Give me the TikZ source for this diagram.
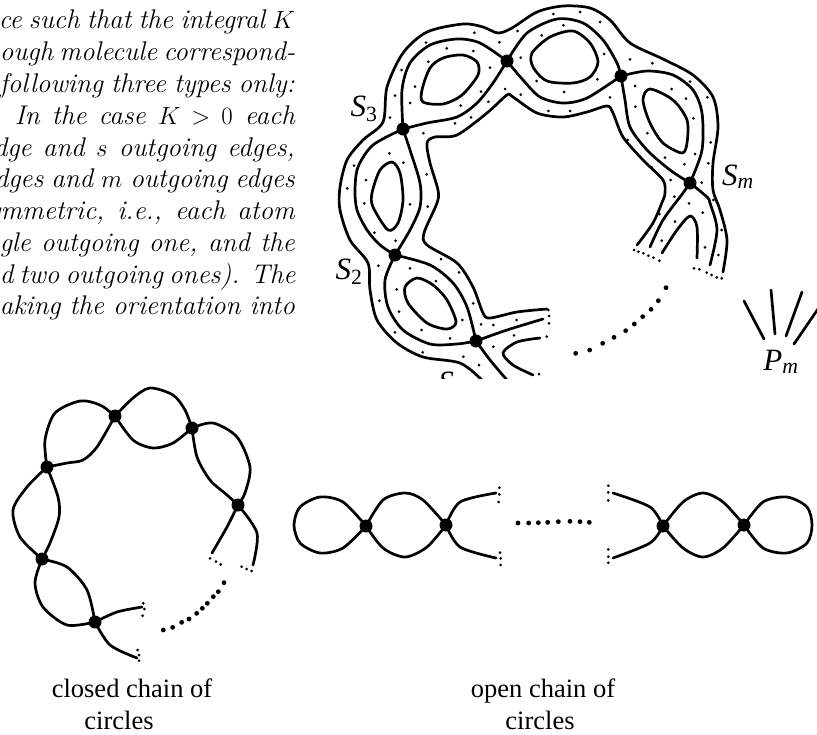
\documentclass[tikz,border=0pt]{standalone}
\usepackage{fontspec}
\newfontfamily\capfont{Liberation Serif}
\tikzset{
  curve/.style={line width=2.7pt, line cap=round, line join=round},
  vertex/.style={circle, fill=black, inner sep=0pt, minimum size=13pt},
  caption/.style={font=\capfont\fontsize{26.5}{26.5}\selectfont, inner sep=0pt, anchor=base},
  letter/.style={font=\capfont\itshape\fontsize{31}{31}\selectfont, inner sep=0pt, anchor=base},
  textline/.style={font=\fontsize{27}{32}\selectfont\itshape, inner sep=0pt, anchor=base east}
}
\newcommand{\smallsub}[1]{\textsubscript{#1}}
\begin{document}
\begin{tikzpicture}[x=1pt,y=-1pt]
    \useasboundingbox (0,0) rectangle (817,734);
    \clip (0,0) rectangle (817,734);

    % Text column on the left
    \foreach \w/\y/\txt in {296/28/{ce such that the integral $K$},
        295/60/{ough molecule correspond-},
        295/92/{following three types only:},
        280/124/{In the case $K>0$ each},
        301/156/{dge and $s$ outgoing edges,},
        300/187/{dges and $m$ outgoing edges},
        307/219/{ymmetric, i.e., each atom},
        295/251/{gle outgoing one, and the},
        295/283/{d two outgoing ones). The},
        295/314/{aking the orientation into}} {
        \node[textline] at (295,\y) {\makebox[\w pt][s]{\txt}};
      }

    \begin{scope}
      \clip (330,0) rectangle (817,378);
      % Vertices of the thickened chain
      \node[vertex] (a1) at (403,129) {};
      \node[vertex] (a2) at (507,61) {};
      \node[vertex] (a3) at (621,76) {};
      \node[vertex] (a4) at (690,183) {};
      \node[vertex] (a5) at (395,255) {};
      \node[vertex] (a6) at (476,341) {};

      % Outer boundary
      \draw[curve] plot[smooth] coordinates {(482,380) (460,363) (423,357) (397,343) (377,320) (370,290) (368,263) (350,240) (340,210) (340,187) (347,160) (363,140) (383,122) (387,87) (403,53) (427,32) (463,24) (483,27) (498,33) (512,28) (537,12) (563,6) (590,8) (610,20) (630,43) (663,59) (693,75) (713,97) (718,127) (713,163) (713,190) (720,210) (727,240) (723,272)};
      % Inner boundary
      \draw[curve] plot[smooth] coordinates {(547,309) (517,312) (490,318) (483,313) (473,287) (457,263) (427,245) (424,233) (437,203) (438,190) (430,163) (427,143) (435,137) (457,135) (487,113) (507,95) (513,97) (537,113) (563,117) (587,112) (607,106) (613,113) (623,137) (643,160) (663,180) (665,193) (663,200) (653,223) (637,245)};

      % Circles through the vertices
      \draw[curve] plot[smooth] coordinates {(a1) (402,90) (410,63) (430,45) (457,39) (480,43) (a2)};
      \draw[curve] plot[smooth] coordinates {(a1) (427,123) (457,117) (477,103) (493,83) (a2)};
      \draw[curve] plot[smooth] coordinates {(a2) (527,33) (557,19) (583,23) (603,40) (617,63) (a3)};
      \draw[curve] plot[smooth] coordinates {(a2) (523,80) (540,97) (563,103) (587,98) (a3)};
      \draw[curve] plot[smooth] coordinates {(a3) (647,71) (673,75) (693,90) (702,113) (702,150) (a4)};
      \draw[curve] plot[smooth] coordinates {(a3) (625,100) (630,127) (647,150) (670,170) (a4)};
      \draw[curve] plot[smooth] coordinates {(a1) (410,150) (420,183) (420,207) (410,230) (a5)};
      \draw[curve] plot[smooth] coordinates {(a1) (373,145) (358,167) (355,190) (357,210) (367,230) (380,245) (a5)};
      \draw[curve] plot[smooth] coordinates {(a5) (385,280) (388,307) (403,330) (430,344) (457,344) (a6)};
      \draw[curve] plot[smooth] coordinates {(a5) (430,265) (453,283) (467,307) (a6)};
      \draw[curve] plot[smooth] coordinates {(a4) (683,193) (663,220) (650,247)};
      \draw[curve] plot[smooth] coordinates {(a4) (707,197) (710,203) (717,230) (710,265)};
      \draw[curve] plot[smooth] coordinates {(a6) (507,330) (543,319)};
      \draw[curve] plot[smooth] coordinates {(a6) (490,360) (507,380)};

      % Holes
      \draw[curve] plot[smooth cycle] coordinates {(463,55) (443,58) (430,68) (422,90) (423,102) (443,104) (462,95) (478,75) (477,62)};
      \draw[curve] plot[smooth cycle] coordinates {(573,31) (550,37) (532,53) (533,67) (547,81) (573,83) (590,77) (598,62) (590,43)};
      \draw[curve] plot[smooth cycle] coordinates {(650,89) (673,100) (687,120) (687,143) (682,153) (663,143) (650,123) (643,100)};
      \draw[curve] plot[smooth cycle] coordinates {(392,162) (380,170) (372,193) (373,207) (388,230) (398,223) (403,200) (400,173)};
      \draw[curve] plot[smooth cycle] coordinates {(417,278) (405,287) (408,303) (427,323) (447,329) (456,322) (447,300) (433,285)};
      \draw[curve] plot[smooth] coordinates {(662,253) (677,230) (690,216) (697,227) (697,258)};
      \draw[curve] plot[smooth] coordinates {(540,338) (517,342) (503,353) (513,365) (533,375)};

      % Dots on the surface
      \foreach \x/\y in {670/42,750/36,810/66,700/76,563/93,433/98,508/127,635/106,288/128,350/145,430/153,295/185,215/210,480/203,572/173,822/162,900/178,967/190,802/238,620/243,1080/245,915/258,1025/267,1068/296,1132/292,255/260,453/275,525/267,572/284,702/276,195/287,240/309,475/305,392/317,840/292,916/320,1090/355,180/353,423/352,375/370,655/333,720/333,280/400,952/400,893/420,1142/427,178/460,220/488,1095/462,1005/473,1063/493,1135/490,72/497,965/502,290/523,108/540,1022/540,1115/548,52/565} {
          \fill (330+\x/3,\y/3) circle (1.5pt);
        }
      \foreach \x/\y in {103/40,240/43,293/50,1033/20,1077/40,1150/30,988/72,1118/68,1035/95,1175/120,133/128,197/152,995/152,1125/172,1165/195,145/227,240/235,333/207,387/247,318/273,200/298,148/332,430/340,207/365,397/390,453/403,490/405,560/390,275/420,195/427,360/445,552/436,490/470,278/487,400/500,447/525,655/360,657/378,657/400,650/440,627/552,912/180,925/185,940/190,955/197,970/203,988/212,1092/235,1108/238,1130/248,1145/255,1160/262,1175/265} {
          \fill (330+\x/3,190+\y/3) circle (1.5pt);
        }
      % Dots between the ends
      \foreach \x/\y in {1008/293,985/332,963/358,938/380,913/402,887/422,852/442,818/460,779/480,737/490} {
          \fill (330+\x/3,190+\y/3) circle (2.4pt);
        }

      % Fan of edges
      \coordinate (f1a) at (744,301); \coordinate (f1b) at (764,339);
      \coordinate (f2a) at (771,290); \coordinate (f2b) at (775,334);
      \coordinate (f3a) at (802,292); \coordinate (f3b) at (786,336);
      \coordinate (f4a) at (820,306); \coordinate (f4b) at (794,344);
      \foreach \i in {1,...,4} {
          \draw[curve] (f\i a) -- (f\i b);
        }

      % Labels
      \node[letter] (s3) at (364,116) {S\smallsub{\upshape 3}};
      \node[letter] (s2) at (349,279) {S\smallsub{\upshape 2}};
      \node[letter] (s1) at (446,392) {S};
      \node[letter] (sm) at (738,185) {S\smallsub{m}};
      \node[letter] (pm) at (781,370) {P\smallsub{m}};
    \end{scope}

    % Closed chain
    \node[vertex] (v1) at (115,416) {};
    \node[vertex] (v2) at (192,428) {};
    \node[vertex] (v3) at (238,505) {};
    \node[vertex] (v4) at (95,622) {};
    \node[vertex] (v5) at (42,559) {};
    \node[vertex] (v6) at (47,467) {};

    \draw[curve] plot[smooth] coordinates {(v6) (45,440) (55,413) (80,401) (100,405) (v1)};
    \draw[curve] plot[smooth] coordinates {(v6) (67,463) (83,460) (97,447) (v1)};
    \draw[curve] plot[smooth] coordinates {(v1) (133,398) (150,388) (173,395) (185,410) (v2)};
    \draw[curve] plot[smooth] coordinates {(v1) (133,440) (153,448) (173,443) (v2)};
    \draw[curve] plot[smooth] coordinates {(v2) (213,423) (237,437) (250,467) (245,493) (v3)};
    \draw[curve] plot[smooth] coordinates {(v2) (197,457) (210,480) (227,495) (v3)};
    \draw[curve] plot[smooth] coordinates {(v6) (27,487) (13,510) (20,537) (v5)};
    \draw[curve] plot[smooth] coordinates {(v6) (58,497) (59,517) (50,543) (v5)};
    \draw[curve] plot[smooth] coordinates {(v5) (67,567) (87,590) (v4)};
    \draw[curve] plot[smooth] coordinates {(v5) (35,583) (43,607) (67,625) (v4)};
    \draw[curve] plot[smooth] coordinates {(v3) (227,527) (212,553)};
    \draw[curve] plot[smooth] coordinates {(v3) (257,533) (253,565)};
    \draw[curve] plot[smooth] coordinates {(v4) (117,612) (142,607)};
    \draw[curve] plot[smooth] coordinates {(v4) (110,645) (137,658)};

    \foreach \x/\y in {430/640,433/657,428/677,413/780,417/795,417/812,630/505,648/515,662/523,725/530,740/537,755/543} {
        \fill (\x/3,390+\y/3) circle (1.5pt);
      }
    \foreach \x/\y in {490/720,518/712,545/697,567/687,590/670,607/655,622/640,640/620,655/605,672/578} {
        \fill (\x/3,390+\y/3) circle (2.4pt);
      }

    % Open chain
    \node[vertex] (w1) at (366,526) {};
    \node[vertex] (w2) at (446,525) {};
    \node[vertex] (w3) at (663,526) {};
    \node[vertex] (w4) at (744,525) {};

    \draw[curve] plot[smooth] coordinates {(w1) (343,502) (320,497) (300,507) (294,525) (300,543) (320,553) (343,548) (w1)};
    \draw[curve] plot[smooth] coordinates {(w1) (383,500) (405,493) (423,500) (w2)};
    \draw[curve] plot[smooth] coordinates {(w1) (383,548) (405,557) (427,547) (w2)};
    \draw[curve] plot[smooth] coordinates {(w2) (460,502) (496,493)};
    \draw[curve] plot[smooth] coordinates {(w2) (460,547) (496,558)};
    \draw[curve] plot[smooth] coordinates {(w3) (650,507) (613,493)};
    \draw[curve] plot[smooth] coordinates {(w3) (650,543) (613,558)};
    \draw[curve] plot[smooth] coordinates {(w3) (683,502) (703,493) (723,502) (w4)};
    \draw[curve] plot[smooth] coordinates {(w3) (683,548) (703,557) (723,548) (w4)};
    \draw[curve] plot[smooth] coordinates {(w4) (763,502) (787,497) (807,507) (812,525) (807,543) (787,553) (763,548) (w4)};

    \foreach \x/\y in {628/83,628/103,626/126,630/278,632/295,632/315,955/77,955/97,955/121,955/268,955/290,955/308} {
        \fill (290+\x/3,460+\y/3) circle (1.5pt);
      }
    \foreach \x/\y in {684/189,716/189,745/188,773/187,805/185,840/184,870/185,898/187} {
        \fill (290+\x/3,460+\y/3) circle (2.4pt);
      }

    % Captions
    \node[caption] (c1) at (132,697) {closed chain of};
    \node[caption] (c2) at (119,729) {circles};
    \node[caption] (c3) at (543,697) {open chain of};
    \node[caption] (c4) at (540,729) {circles};
  \end{tikzpicture}
\end{document}
